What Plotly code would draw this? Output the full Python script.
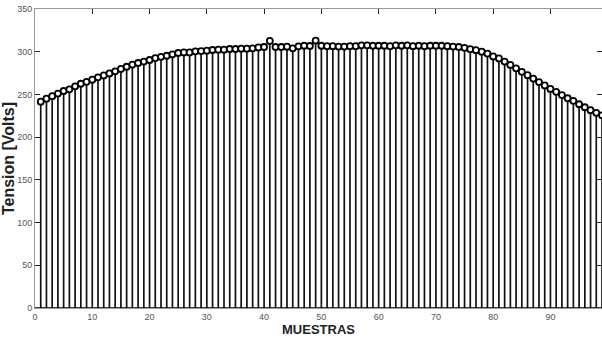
import plotly.graph_objects as go

# Sample index (MUESTRAS)
muestras = list(range(1, 100))

# Voltage per sample (Tension [Volts])
tension = [
    241.5, 245.0, 248.0, 251.0, 254.0, 256.0, 259.5, 262.5, 264.7, 267.3,
    270.0, 272.3, 274.6, 277.0, 279.8, 282.4, 285.0, 286.8, 288.5, 290.3,
    292.6, 294.0, 295.3, 297.0, 298.5, 299.2, 299.2, 300.5, 300.8, 301.2,
    302.0, 302.4, 302.4, 303.2, 303.2, 303.6, 303.6, 304.0, 305.0, 305.5,
    312.6, 305.5, 305.5, 305.9, 304.0, 306.3, 307.0, 306.7, 313.0, 307.0,
    306.5, 306.5, 306.0, 306.0, 306.5, 306.5, 307.5, 307.5, 307.0, 307.0,
    307.0, 306.5, 307.5, 307.0, 307.5, 306.5, 307.0, 306.5, 307.0, 307.0,
    307.0, 306.5, 306.0, 305.5, 304.5, 303.0, 301.8, 300.0, 297.8, 294.5,
    292.2, 288.5, 284.5, 280.5, 276.5, 272.5, 268.5, 264.5, 260.5, 256.5,
    253.0, 249.2, 245.5, 242.5, 238.5, 235.0, 231.6, 228.5, 225.5,
]

x_ticks = [0, 10, 20, 30, 40, 50, 60, 70, 80, 90]
y_ticks = [0, 50, 100, 150, 200, 250, 300, 350]

# stems built from the data arrays
stem_x, stem_y = [], []
for xv, yv in zip(muestras, tension):
    stem_x += [xv, xv, None]
    stem_y += [0, yv, None]

fig = go.Figure()
fig.add_trace(go.Scatter(
    x=stem_x, y=stem_y, mode="lines",
    line=dict(color="#111111", width=1.7),
    hoverinfo="skip", showlegend=False,
))
fig.add_trace(go.Scatter(
    x=muestras, y=tension, mode="markers",
    marker=dict(symbol="circle", size=6, color="white",
                line=dict(color="black", width=1.8)),
    showlegend=False,
))
# baseline
fig.add_hline(y=0, line=dict(color="black", width=1.4))

tickfont = dict(family="Liberation Sans Narrow, Arial Narrow, sans-serif",
                size=9, color="#555555")

fig.update_layout(
    width=602, height=342,
    margin=dict(l=35, r=0, t=9, b=34),
    paper_bgcolor="white", plot_bgcolor="white",
    xaxis=dict(
        range=[0, 99], tickvals=x_ticks, ticktext=[str(v) for v in x_ticks],
        ticks="inside", ticklen=5, tickcolor="#222222", tickwidth=1,
        showline=True, linecolor="#999999", linewidth=1, mirror="ticks",
        showgrid=False, zeroline=False, tickfont=tickfont,
        title=dict(text="<b>MUESTRAS</b>", standoff=2,
                   font=dict(family="Liberation Sans Narrow, Arial Narrow, sans-serif",
                             size=13, color="#222222")),
    ),
    yaxis=dict(
        range=[0, 350], tickvals=y_ticks, ticktext=[str(v) for v in y_ticks],
        ticks="inside", ticklen=5, tickcolor="#222222", tickwidth=1,
        showline=True, linecolor="#999999", linewidth=1, mirror="ticks",
        showgrid=False, zeroline=False, tickfont=tickfont,
        title=dict(text="<b>Tension [Volts]</b>", standoff=1,
                   font=dict(family="Liberation Sans, Arial, sans-serif",
                             size=16, color="#222222")),
    ),
)

fig.write_html("out.html")
